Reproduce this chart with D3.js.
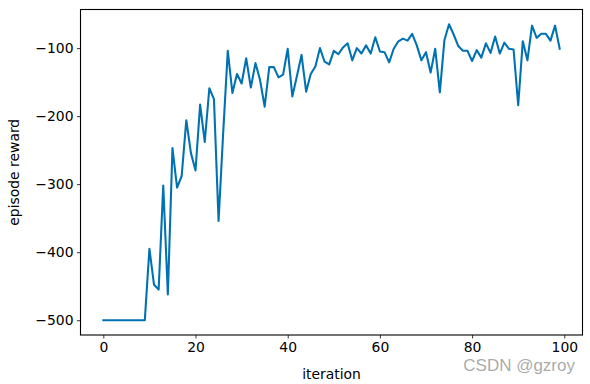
<!DOCTYPE html>
<html>
<head>
<meta charset="utf-8">
<script src="https://cdn.jsdelivr.net/npm/d3@7"></script>
<style>
  body { margin: 0; background: #fff; }
  svg { font-family: "DejaVu Sans", sans-serif; }
</style>
</head>
<body>
<svg id="chart" width="590" height="384"></svg>
<script>
// episode reward per iteration
const rewards = [
  -500, -500, -500, -500, -500, -500, -500, -500, -500, -500,
  -395, -448, -455, -302, -462, -247, -305, -288, -206, -254,
  -280, -183, -238, -159, -175, -354, -225, -104, -166, -138,
  -152, -115, -158, -122, -147, -186, -128, -128, -143, -139,
  -101, -171, -141, -110, -164, -138, -127, -100, -120, -124,
  -104, -109, -99, -93, -118, -100, -108, -96, -108, -84,
  -105, -106, -121, -101, -90, -86, -89, -79, -96, -118,
  -106, -136, -101, -165, -88, -65, -80, -97, -104, -104,
  -119, -103, -114, -93, -107, -83, -108, -92, -101, -102,
  -184, -90, -118, -67, -85, -79, -79, -89, -67, -101
]
const iterations = rewards.map((d, i) => i)
const xTicks = [0, 20, 40, 60, 80, 100]
const yTicks = [-500, -400, -300, -200, -100]

const margin = { top: 9.5, right: 7.5, bottom: 49, left: 80.5 }
const width = 590, height = 384
const boundedWidth = width - margin.left - margin.right
const boundedHeight = height - margin.top - margin.bottom

const svg = d3.select("#chart")
const group = svg.append("g")
    .attr("transform", `translate(${margin.left}, ${margin.top})`)

// matplotlib style 5% margins
const xMin = d3.min(iterations), xMax = d3.max(iterations)
const yMin = d3.min(rewards), yMax = d3.max(rewards)
const xPad = (xMax - xMin) * 0.05, yPad = (yMax - yMin) * 0.05

const xScale = d3.scaleLinear()
    .domain([xMin - xPad, xMax + xPad])
    .range([0, boundedWidth])

const yScale = d3.scaleLinear()
    .domain([yMin - yPad, yMax + yPad])
    .range([boundedHeight, 0])

const fmt = d => d < 0 ? "\u2212" + Math.abs(d) : String(d)

const xAxis = group.append("g")
    .attr("transform", `translate(0, ${boundedHeight})`)
    .call(d3.axisBottom(xScale).tickValues(xTicks).tickSize(3.5).tickPadding(3.5).tickFormat(fmt))

const yAxis = group.append("g")
    .call(d3.axisLeft(yScale).tickValues(yTicks).tickSize(3.5).tickPadding(3.5).tickFormat(fmt))

group.selectAll(".domain").remove()
group.selectAll(".tick line").attr("stroke", "#000").attr("stroke-width", 0.8)
group.selectAll(".tick text")
    .attr("fill", "#000")
    .style("font-size", "13.9px")
    .style("font-family", "DejaVu Sans")

// DRAW DATA -----------------------------------------------------------
const line = d3.line()
    .x((d, i) => xScale(iterations[i]))
    .y(d => yScale(d))

group.append("path")
    .datum(rewards)
    .attr("d", line)
    .attr("fill", "none")
    .attr("stroke", "#0072B2")
    .attr("stroke-width", 2.08)
    .attr("stroke-linejoin", "round")
    .attr("stroke-linecap", "square")

// frame
group.append("rect")
    .attr("width", boundedWidth)
    .attr("height", boundedHeight)
    .attr("fill", "none")
    .attr("stroke", "#000")
    .attr("stroke-width", 1.1)

// labels
svg.append("text")
    .attr("x", margin.left + boundedWidth / 2)
    .attr("y", 379)
    .attr("text-anchor", "middle")
    .style("font-size", "13.9px")
    .text("iteration")

svg.append("text")
    .attr("transform", `translate(19, ${margin.top + boundedHeight / 2}) rotate(-90)`)
    .attr("text-anchor", "middle")
    .style("font-size", "13.9px")
    .text("episode reward")

// watermark
svg.append("text")
    .attr("x", 575)
    .attr("y", 371)
    .attr("text-anchor", "end")
    .attr("fill", "#9a9a9a")
    .attr("fill-opacity", 0.85)
    .style("font-family", "Liberation Sans, Arial, sans-serif")
    .style("font-size", "17px")
    .text("CSDN @gzroy")
</script>
</body>
</html>
